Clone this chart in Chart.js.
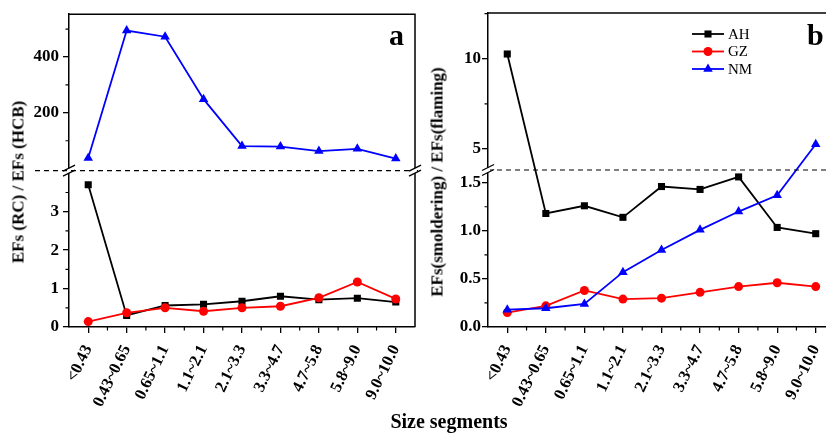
<!DOCTYPE html>
<html>
<head>
<meta charset="utf-8">
<script src="https://cdn.jsdelivr.net/npm/chart.js@4.4.1/dist/chart.umd.min.js"></script>
<style>
    html, body { margin: 0; padding: 0; overflow: hidden; background: #fff; }
    body { position: relative; width: 826px; height: 436px; font-family: "Liberation Serif", "Times New Roman", serif; color: #000; }
    .panel { position: absolute; top: 0; }
    .ytitle { position: absolute; font-weight: bold; font-size: 17px; white-space: nowrap; line-height: 1; transform: translate(-50%, -50%) rotate(-90deg); }
    .letter { position: absolute; font-weight: bold; font-size: 30px; line-height: 1; }
    .xtitle { position: absolute; font-weight: bold; font-size: 20px; line-height: 1; white-space: nowrap; transform: translateX(-50%); }
</style>
</head>
<body>
<div class="panel" style="left:0px"><canvas id="chart-a" width="430" height="436"></canvas></div>
<div class="panel" style="left:420px"><canvas id="chart-b" width="430" height="436"></canvas></div>
<div class="ytitle" style="left:18px; top:182px">EFs (RC) / EFs (HCB)</div>
<div class="ytitle" style="left:437px; top:182px">EFs(smoldering) / EFs(flaming)</div>
<div class="letter" style="left:389px; top:20px">a</div>
<div class="letter" style="left:807px; top:20px">b</div>
<div class="xtitle" style="left:449px; top:411px">Size segments</div>

<script>
// catégories (axe x commun)
const sizeSegments = ["<0.43", "0.43~0.65", "0.65~1.1", "1.1~2.1", "2.1~3.3", "3.3~4.7", "4.7~5.8", "5.8~9.0", "9.0~10.0"];

// panneau a : EFs (RC) / EFs (HCB)
const ahRC = [3.70, 0.30, 0.56, 0.59, 0.67, 0.80, 0.71, 0.75, 0.65];
const gzRC = [0.14, 0.37, 0.50, 0.41, 0.50, 0.54, 0.76, 1.17, 0.73];
const nmRC = [38, 495, 473, 249, 81, 79, 63, 71, 36];

// panneau b : EFs(smoldering) / EFs(flaming)
const ahSF = [10.26, 1.18, 1.26, 1.14, 1.46, 1.43, 1.56, 1.035, 0.97];
const gzSF = [0.15, 0.22, 0.38, 0.29, 0.30, 0.36, 0.42, 0.46, 0.42];
const nmSF = [0.18, 0.195, 0.24, 0.57, 0.80, 1.01, 1.20, 1.37, 5.26];

const seriesNames = ["AH", "GZ", "NM"];

// graduations de l'axe y (majeures + mineures)
const ticksA = [0, 1, 2, 3, 200, 400];
const tickLabelsA = ["0", "1", "2", "3", "200", "400"];
const minorA = [0.5, 1.5, 2.5, 3.5, 100, 300, 500];
const ticksB = [0, 0.5, 1, 1.5, 5, 10];
const tickLabelsB = ["0.0", "0.5", "1.0", "1.5", "5", "10"];
const minorB = [0.25, 0.75, 1.25, 7.5, 12.5];

// axe coupé : moitié basse = [0, lowMax], moitié haute = [highMin, highMax]
const breakA = { lowMax: 4.07, highMin: -7, highMax: 553.7 };
const breakB = { lowMax: 1.632, highMin: 3.838, highMax: 12.53 };

const serif = "'Liberation Serif', 'Times New Roman', serif";
const styles = [
    { color: "#000000", marker: "rect", radius: 5, order: 3 },
    { color: "#ff0000", marker: "circle", radius: 4.5, order: 2 },
    { color: "#0000ff", marker: "triangle", radius: 5.5, order: 1 },
];

function toDisplay(brk, v) {
    if (v <= brk.lowMax) return 0.5 * v / brk.lowMax;
    return 0.5 + 0.5 * (v - brk.highMin) / (brk.highMax - brk.highMin);
}

function drawMarker(ctx, type, x, y, r, color) {
    ctx.save();
    ctx.fillStyle = color;
    ctx.beginPath();
    if (type === "rect") {
        const s = r * Math.SQRT1_2;
        ctx.rect(x - s, y - s, 2 * s, 2 * s);
    } else if (type === "circle") {
        ctx.arc(x, y, r, 0, Math.PI * 2);
    } else {
        ctx.moveTo(x, y - r);
        ctx.lineTo(x + r * 0.866, y + r * 0.5);
        ctx.lineTo(x - r * 0.866, y + r * 0.5);
        ctx.closePath();
    }
    ctx.fill();
    ctx.restore();
}

// cadre, graduations mineures, coupure de l'axe, légende
const decor = {
    id: "decor",
    afterDraw(chart, args, opts) {
        const ctx = chart.ctx;
        const area = chart.chartArea;
        const xs = chart.scales.x;
        const ys = chart.scales.y;
        ctx.save();
        ctx.strokeStyle = "#000";
        ctx.lineWidth = 1.5;
        ctx.beginPath();
        ctx.moveTo(area.left, area.top);
        ctx.lineTo(area.right, area.top);
        ctx.lineTo(area.right, area.bottom);
        ctx.stroke();

        // graduations mineures
        ctx.lineWidth = 1.2;
        ctx.beginPath();
        opts.minor.forEach((v) => {
            const py = ys.getPixelForValue(toDisplay(opts.brk, v));
            ctx.moveTo(area.left - 3.5, py);
            ctx.lineTo(area.left, py);
        });
        for (let i = 0; i < sizeSegments.length - 1; i++) {
            const px = (xs.getPixelForValue(i) + xs.getPixelForValue(i + 1)) / 2;
            ctx.moveTo(px, area.bottom);
            ctx.lineTo(px, area.bottom + 3.5);
        }
        ctx.stroke();

        // ligne pointillée de la coupure
        const yb = ys.getPixelForValue(0.5);
        ctx.lineWidth = 1.2;
        ctx.setLineDash([5, 4]);
        ctx.beginPath();
        ctx.moveTo(area.left - opts.dashLeft, yb);
        ctx.lineTo(area.right + opts.dashRight, yb);
        ctx.stroke();
        ctx.setLineDash([]);

        [area.left, area.right].forEach((ax) => {
            ctx.fillStyle = "#fff";
            ctx.fillRect(ax - 2, yb - 2.5, 4, 5);
            ctx.lineWidth = 1.3;
            ctx.beginPath();
            [-2.5, 2.5].forEach((o) => {
                ctx.moveTo(ax - 6, yb + o + 3);
                ctx.lineTo(ax + 6, yb + o - 3);
            });
            ctx.stroke();
        });

        // légende
        if (opts.legend) {
            ctx.font = "15px " + serif;
            ctx.textBaseline = "middle";
            ctx.textAlign = "left";
            chart.data.datasets.forEach((ds, i) => {
                const ly = 34 + i * 17.5;
                ctx.strokeStyle = styles[i].color;
                ctx.lineWidth = 1.8;
                ctx.beginPath();
                ctx.moveTo(272, ly);
                ctx.lineTo(304, ly);
                ctx.stroke();
                drawMarker(ctx, styles[i].marker, 288, ly, styles[i].radius, styles[i].color);
                ctx.fillStyle = "#000";
                ctx.fillText(ds.label, 308, ly + 1);
            });
        }
        ctx.restore();
    },
};

function creerGraphique(id, series, brk, majors, majorLabels, minors, yWidth, yPad, decorOpts) {
    const ctx = document.getElementById(id).getContext("2d");
    return new Chart(ctx, {
        type: "line",
        data: {
            labels: sizeSegments,
            datasets: series.map((values, i) => ({
                label: seriesNames[i],
                data: values.map((v) => toDisplay(brk, v)),
                borderColor: styles[i].color,
                backgroundColor: styles[i].color,
                borderWidth: 1.8,
                pointStyle: styles[i].marker,
                pointRadius: styles[i].radius,
                pointBorderWidth: 0,
                pointBackgroundColor: styles[i].color,
                tension: 0,
                order: styles[i].order,
            })),
        },
        options: {
            responsive: false,
            animation: false,
            devicePixelRatio: 1,
            layout: { padding: { top: 13, right: 15, left: 0, bottom: 0 } },
            plugins: {
                legend: { display: false },
                tooltip: { enabled: false },
                decor: Object.assign({ minor: minors, brk: brk }, decorOpts),
            },
            scales: {
                x: {
                    type: "category",
                    offset: true,
                    border: { display: true, color: "#000", width: 1.5 },
                    grid: { drawOnChartArea: false, drawTicks: true, tickLength: 6, color: "#000", lineWidth: 1.3 },
                    ticks: {
                        color: "#000",
                        font: { family: serif, size: 16.5, weight: "bold" },
                        minRotation: 64,
                        maxRotation: 64,
                        autoSkip: false,
                        padding: 9,
                    },
                    afterFit: (scale) => { scale.height = 109; },
                },
                y: {
                    type: "linear",
                    min: 0,
                    max: 1,
                    border: { display: true, color: "#000", width: 1.5 },
                    grid: { drawOnChartArea: false, drawTicks: true, tickLength: 6, color: "#000", lineWidth: 1.3 },
                    ticks: {
                        color: "#000",
                        font: { family: serif, size: 17, weight: "bold" },
                        autoSkip: false,
                        padding: yPad,
                        callback: (value, index) => majorLabels[index],
                    },
                    afterBuildTicks: (scale) => {
                        scale.ticks = majors.map((v) => ({ value: toDisplay(brk, v) }));
                    },
                    afterFit: (scale) => { scale.width = yWidth; },
                },
            },
        },
        plugins: [decor],
    });
}

creerGraphique("chart-a", [ahRC, gzRC, nmRC], breakA, ticksA, tickLabelsA, minorA, 69, 4,
    { dashLeft: 34, dashRight: 5, legend: false });
creerGraphique("chart-b", [ahSF, gzSF, nmSF], breakB, ticksB, tickLabelsB, minorB, 68, 1,
    { dashLeft: 0, dashRight: 0, legend: true });
</script>
</body>
</html>
